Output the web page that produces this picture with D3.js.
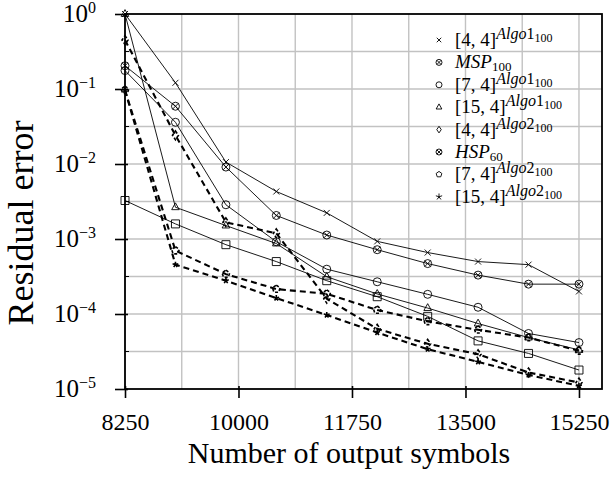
<!DOCTYPE html>
<html>
<head>
<meta charset="utf-8">
<script src="https://cdn.jsdelivr.net/npm/d3@7"></script>
<style>
  body { margin: 0; background: #fff; }
  svg { display: block; }
</style>
</head>
<body>
<div id="chart"></div>
<script>
// x positions of the measurements (10 points between 8250 and 15250)
const symbols = [8250, 9028, 9806, 10583, 11361, 12139, 12917, 13694, 14472, 15250];
const xTickValues = [8250, 10000, 11750, 13500, 15250];
const xGridValues = [8250, 9125, 10000, 10875, 11750, 12625, 13500, 14375, 15250];
const yTickExponents = [0, -1, -2, -3, -4, -5];
const yGridExponents = [-0.5, -1, -1.5, -2, -2.5, -3, -3.5, -4, -4.5];

// residual error per series
const algo1_4_4 = [1.0, 0.121, 0.0106, 0.0043, 0.00223, 0.00093, 0.00066, 0.0005, 0.000455, 0.0002];
const msp100 = [0.204, 0.0589, 0.0091, 0.00206, 0.00113, 0.00072, 0.00047, 0.00033, 0.00025, 0.00025];
const algo1_7_4 = [0.176, 0.036, 0.00286, 0.00092, 0.000396, 0.000269, 0.000183, 0.000123, 5.5e-5, 4.16e-5];
const algo1_15_4 = [1.0, 0.00265, 0.00151, 0.00087, 0.000314, 0.000185, 0.00012, 7.46e-5, 4.85e-5, 3.32e-5];
const hsp60 = [0.00326, 0.00159, 0.00084, 0.0005, 0.000278, 0.00017, 9.3e-5, 4.38e-5, 2.98e-5, 1.79e-5];
const algo2_4_4 = [0.449, 0.0241, 0.00167, 0.00119, 0.00016, 6.34e-5, 4.0e-5, 2.91e-5, 1.66e-5, 1.22e-5];
const algo2_7_4 = [0.0964, 0.0007, 0.00034, 0.000215, 0.000186, 0.000113, 7.98e-5, 6.15e-5, 4.85e-5, 3.22e-5];
const algo2_15_4 = [0.0964, 0.000455, 0.000278, 0.000163, 9.7e-5, 5.66e-5, 3.4e-5, 2.3e-5, 1.54e-5, 1.1e-5];

const series = [
    { values: algo1_4_4, mark: 'times', dashed: false },
    { values: msp100, mark: 'otimes', dashed: false },
    { values: algo1_7_4, mark: 'circle', dashed: false },
    { values: algo1_15_4, mark: 'triangle', dashed: false },
    { values: hsp60, mark: 'square', dashed: false },
    { values: algo2_4_4, mark: 'diamond', dashed: true },
    { values: algo2_7_4, mark: 'pentagon', dashed: true },
    { values: algo2_15_4, mark: 'star', dashed: true },
];

// legend rows
const legendRows = [
    { mark: 'times', base: '[4, 4]', sup: ['Algo', '1'], sub2: '100' },
    { mark: 'otimes', baseIt: 'MSP', sub: '100' },
    { mark: 'circle', base: '[7, 4]', sup: ['Algo', '1'], sub2: '100' },
    { mark: 'triangle', base: '[15, 4]', sup: ['Algo', '1'], sub2: '100' },
    { mark: 'diamond', base: '[4, 4]', sup: ['Algo', '2'], sub2: '100' },
    { mark: 'otimes', baseIt: 'HSP', sub: '60' },
    { mark: 'pentagon', base: '[7, 4]', sup: ['Algo', '2'], sub2: '100' },
    { mark: 'star', base: '[15, 4]', sup: ['Algo', '2'], sub2: '100' },
];

const W = 614, H = 481;
const plot = { left: 125, right: 602, top: 14, bottom: 389 };
const FONT = '"Liberation Serif", "DejaVu Serif", serif';

const svg = d3.select('#chart').append('svg').attr('width', W).attr('height', H)
    .style('font-family', FONT);

const x = d3.scaleLinear().domain([8250, 15605]).range([plot.left, plot.right]);
const y = d3.scaleLog().domain([1e-5, 1]).range([plot.bottom, plot.top]);

function circlePath(r) {
    const p = d3.path();
    p.moveTo(r, 0);
    p.arc(0, 0, r, 0, 2 * Math.PI);
    p.closePath();
    return p.toString();
}

function markPath(type, r) {
    switch (type) {
        case 'times': { const a = r * 0.75; return `M${-a},${-a}L${a},${a}M${-a},${a}L${a},${-a}`; }
        case 'circle': return circlePath(r);
        case 'otimes': {
            const a = r * 0.707;
            return circlePath(r) + `M${-a},${-a}L${a},${a}M${-a},${a}L${a},${-a}`;
        }
        case 'triangle': return `M0,${-r * 1.1}L${r * 0.95},${r * 0.6}L${-r * 0.95},${r * 0.6}Z`;
        case 'square': return `M${-r},${-r}H${r}V${r}H${-r}Z`;
        case 'diamond': return `M0,${-r * 1.1}L${r * 0.75},0L0,${r * 1.1}L${-r * 0.75},0Z`;
        case 'pentagon': {
            const pts = d3.range(5).map((i) => {
                const a = -Math.PI / 2 + i * 2 * Math.PI / 5;
                return [r * Math.cos(a), r * Math.sin(a)];
            });
            return 'M' + pts.map((p) => p.join(',')).join('L') + 'Z';
        }
        case 'star':
            return d3.range(5).map((i) => {
                const a = -Math.PI / 2 + i * 2 * Math.PI / 5;
                return `M0,0L${r * 1.1 * Math.cos(a)},${r * 1.1 * Math.sin(a)}`;
            }).join('');
    }
    return '';
}

// grid
const grid = svg.append('g').attr('stroke', '#c2c2c2').attr('stroke-width', 1.4);
grid.selectAll('line.vx').data(xGridValues).enter().append('line')
    .attr('x1', (d) => x(d)).attr('x2', (d) => x(d))
    .attr('y1', plot.top).attr('y2', plot.bottom);
grid.selectAll('line.hy').data(yGridExponents).enter().append('line')
    .attr('x1', plot.left).attr('x2', plot.right)
    .attr('y1', (d) => y(10 ** d)).attr('y2', (d) => y(10 ** d));

// series lines
svg.append('clipPath').attr('id', 'clip').append('rect')
    .attr('x', plot.left).attr('y', plot.top)
    .attr('width', plot.right - plot.left).attr('height', plot.bottom - plot.top);

const line = d3.line().x((d, i) => x(symbols[i])).y((d) => y(d));
const lines = svg.append('g').attr('clip-path', 'url(#clip)');
lines.selectAll('path').data(series).enter().append('path')
    .attr('fill', 'none').attr('stroke', '#000')
    .attr('stroke-width', (d) => d.dashed ? 2.1 : 0.9)
    .attr('stroke-dasharray', (d) => d.dashed ? '6,4' : null)
    .attr('d', (d) => line(d.values));

// markers
series.forEach((s) => {
    svg.append('g').selectAll('path').data(s.values).enter().append('path')
        .attr('transform', (d, i) => `translate(${x(symbols[i])},${y(d)})`)
        .attr('d', markPath(s.mark, 4))
        .attr('fill', 'none').attr('stroke', '#000')
        .attr('stroke-width', s.dashed ? 1.6 : 0.9)
        .attr('stroke-dasharray', s.dashed ? '3,2' : null);
});

// frame
svg.append('rect').attr('x', plot.left).attr('y', plot.top)
    .attr('width', plot.right - plot.left).attr('height', plot.bottom - plot.top)
    .attr('fill', 'none').attr('stroke', '#000').attr('stroke-width', 1.8);

// x axis
const xAxis = svg.append('g').attr('transform', `translate(0,${plot.bottom})`)
    .call(d3.axisBottom(x).tickValues(xTickValues).tickSize(9).tickFormat(d3.format('d')));
xAxis.select('.domain').remove();
xAxis.selectAll('.tick line').attr('y1', -3).attr('stroke-width', 1.6);
xAxis.selectAll('.tick text').attr('font-size', 24).attr('font-family', FONT)
    .attr('fill', '#000').attr('y', 24).attr('dy', '0.71em');

// y axis
const yAxis = svg.append('g').attr('transform', `translate(${plot.left},0)`)
    .call(d3.axisLeft(y).tickValues(yTickExponents.map((e) => 10 ** e)).tickSize(10).tickFormat(''));
yAxis.select('.domain').remove();
yAxis.selectAll('.tick line').attr('x1', 3).attr('stroke-width', 1.6);
yAxis.selectAll('.minor').data(yGridExponents.filter((e) => e % 1 !== 0)).enter().append('line')
    .attr('class', 'minor').attr('x1', 0).attr('x2', 4)
    .attr('y1', (d) => y(10 ** d)).attr('y2', (d) => y(10 ** d))
    .attr('stroke', '#000').attr('stroke-width', 1);

const yLabels = svg.append('g').attr('font-size', 25).attr('text-anchor', 'end');
yTickExponents.forEach((e) => {
    const t = yLabels.append('text').attr('x', 96).attr('y', y(10 ** e) + 8);
    t.append('tspan').text('10');
    t.append('tspan').attr('font-size', 16).attr('dy', -9)
        .text(e === 0 ? '0' : '\u2212' + Math.abs(e));
});

// axis titles
svg.append('text').attr('x', 349).attr('y', 463)
    .attr('text-anchor', 'middle').attr('font-size', 30).text('Number of output symbols');
svg.append('text').attr('transform', `translate(33,${223}) rotate(-90)`)
    .attr('text-anchor', 'middle').attr('font-size', 36).text('Residual error');

// legend
const legend = svg.append('g').attr('transform', 'translate(439,40)');
legendRows.forEach((r, i) => {
    const row = legend.append('g').attr('transform', `translate(0,${i * 22.4})`);
    row.append('path').attr('d', markPath(r.mark, 3))
        .attr('fill', 'none').attr('stroke', '#000').attr('stroke-width', 0.9);
    const t = row.append('text').attr('x', 16).attr('y', 6).attr('font-size', 19);
    if (r.baseIt) {
        t.append('tspan').attr('font-style', 'italic').text(r.baseIt);
        t.append('tspan').attr('font-size', 13).attr('dy', 3).text(r.sub);
    } else {
        t.append('tspan').text(r.base);
        t.append('tspan').attr('font-size', 16).attr('font-style', 'italic').attr('dy', -7).text(r.sup[0]);
        t.append('tspan').attr('font-size', 16).text(r.sup[1]);
        t.append('tspan').attr('font-size', 12).attr('dy', 3).text(r.sub2);
    }
});
</script>
</body>
</html>
